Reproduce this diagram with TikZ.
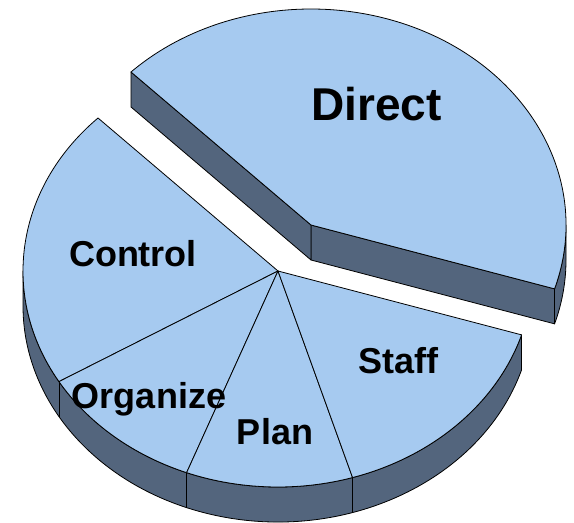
\documentclass[tikz,border=0pt]{standalone}
\usepackage{fontspec}
\setmainfont{Liberation Sans}
\usetikzlibrary{calc}
\definecolor{topc}{RGB}{166,202,240}
\definecolor{sidec}{RGB}{83,101,125}
\begin{document}
\begin{tikzpicture}[x=1pt,y=1pt,line join=round,
  topface/.style={fill=topc,draw=black,line width=0.8pt},
  sideface/.style={fill=sidec,draw=black,line width=0.8pt},
  lbl/.style={font=\bfseries\fontsize{36}{40}\selectfont,anchor=base,inner sep=0pt},
  biglbl/.style={font=\bfseries\fontsize{46}{50}\selectfont,anchor=base,inner sep=0pt}]
\useasboundingbox (0,0) rectangle (574,523);
\coordinate (C) at (278,252);
\coordinate (D) at (311,298);
% ---- exploded slice: Direct ----
\draw[sideface] ($(D)+(342.8:255pt and 216pt)$) arc[start angle=342.8,end angle=360,x radius=255pt,y radius=216pt]
  -- ++(0,-35) arc[start angle=360,end angle=342.8,x radius=255pt,y radius=216pt] -- cycle;
\coordinate (Dr) at ($(D)+(342.8:255pt and 216pt)$);
\coordinate (Dl) at ($(D)+(134.9:255pt and 216pt)$);
\draw[sideface] (D) -- (Dr) -- ++(0,-35) -- ($(D)+(0,-35)$) -- cycle;
\draw[sideface] (D) -- (Dl) -- ++(0,-35) -- ($(D)+(0,-35)$) -- cycle;
\draw[topface] (D) -- (Dr) arc[start angle=-17.2,end angle=134.9,x radius=255pt,y radius=216pt] -- cycle;
% ---- main pie sides ----
\draw[sideface] ($(C)+(180:255pt and 216pt)$) arc[start angle=180,end angle=342.8,x radius=255pt,y radius=216pt]
  -- ++(0,-35) arc[start angle=342.8,end angle=180,x radius=255pt,y radius=216pt] -- cycle;
\foreach \t in {210.8,249,287}{
  \draw[line width=0.8pt] ($(C)+(\t:255pt and 216pt)$) -- ++(0,-35);
}
% ---- main pie top faces ----
\draw[topface] (C) -- ($(C)+(134.9:255pt and 216pt)$) arc[start angle=134.9,end angle=210.8,x radius=255pt,y radius=216pt] -- cycle;
\draw[topface] (C) -- ($(C)+(210.8:255pt and 216pt)$) arc[start angle=210.8,end angle=249,x radius=255pt,y radius=216pt] -- cycle;
\draw[topface] (C) -- ($(C)+(249:255pt and 216pt)$) arc[start angle=249,end angle=287,x radius=255pt,y radius=216pt] -- cycle;
\draw[topface] (C) -- ($(C)+(287:255pt and 216pt)$) arc[start angle=287,end angle=342.8,x radius=255pt,y radius=216pt] -- cycle;
% ---- labels ----
\node[biglbl] (direct) at (376.5,402) {Direct};
\node[lbl] (control) at (133,256) {Control};
\node[lbl] (organize) at (149,114) {Organize};
\node[lbl] (plan) at (275,78) {Plan};
\node[lbl] (staff) at (398.5,149) {Staff};
\end{tikzpicture}
\end{document}
